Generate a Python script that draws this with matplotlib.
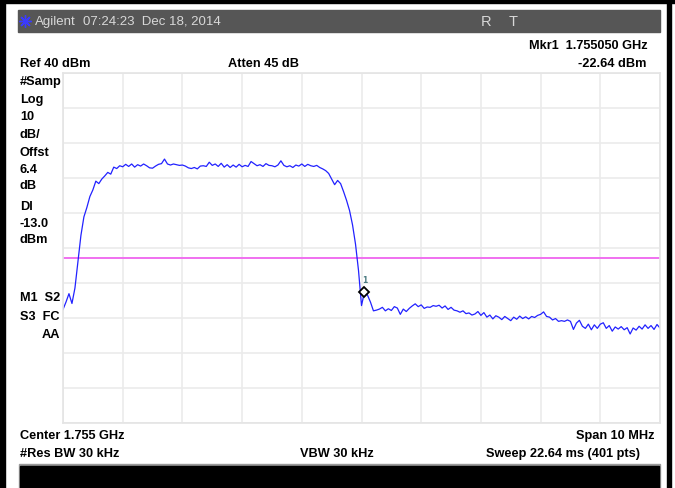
import numpy as np
import matplotlib.pyplot as plt
from matplotlib.patches import Rectangle
from matplotlib.lines import Line2D

# --- Tamaño de la captura (pixeles) ---
W, H = 675, 489

ref_level = 40        # dBm
db_div = 10           # dB/div
display_line = -13.0  # dBm
center_ghz = 1.755
span_ghz = 0.010
mkr_freq = 1.755050   # GHz
mkr_level = -22.64    # dBm

# traza en dBm, paso de 0.05 MHz (una fila = 1 MHz)
level = [
    -27.6, -25.5, -23.1, -25.9, -21.5, -14.0, -6.5, -1.2, 1.5, 4.6, 6.5, 9.0, 8.3, 9.6, 10.5, 11.5, 11.0, 13.0, 12.6, 13.4,
    13.1, 13.8, 13.2, 13.9, 13.0, 13.7, 13.3, 13.9, 13.4, 12.8, 12.7, 13.3, 13.8, 14.0, 15.3, 13.9, 13.6, 13.9, 13.7, 13.5,
    13.6, 13.3, 12.8, 12.6, 12.9, 12.5, 13.3, 13.4, 13.2, 14.4, 13.5, 13.9, 13.2, 14.1, 13.0, 13.7, 12.9, 13.6, 13.0, 13.8,
    13.1, 13.5, 13.2, 14.6, 14.0, 13.4, 13.7, 13.2, 14.0, 13.5, 13.4, 13.1, 13.6, 14.8, 13.5, 13.1, 13.4, 12.9, 13.6, 13.3,
    13.9, 13.2, 13.8, 13.4, 13.2, 13.5, 12.9, 12.5, 12.0, 11.2, 9.6, 8.0, 9.2, 8.3, 6.0, 3.5, 0.6, -3.5, -9.0, -16.5,
    -26.5, -22.64, -23.5, -25.5, -28.0, -27.8, -27.5, -27.0, -28.0, -27.4, -27.9, -26.8, -27.2, -29.0, -27.5, -28.2, -27.3, -26.6, -26.0, -26.8,
    -26.3, -27.3, -26.9, -27.0, -26.5, -26.7, -26.4, -27.2, -26.6, -27.6, -27.0, -27.8, -28.0, -28.4, -28.0, -28.8, -28.6, -29.2, -28.9, -28.2,
    -29.3, -28.5, -29.8, -29.2, -30.3, -29.4, -29.8, -30.5, -29.6, -30.2, -30.8, -29.8, -30.4, -29.5, -30.2, -29.7, -30.3, -29.6, -29.9, -29.3,
    -29.0, -28.3, -29.6, -29.8, -30.6, -30.2, -31.0, -30.8, -31.0, -30.6, -31.0, -33.3, -31.5, -30.7, -32.4, -33.0, -31.8, -33.4, -32.0, -33.0,
    -31.8, -31.4, -33.0, -32.2, -33.8, -32.6, -33.2, -32.5, -33.4, -32.8, -34.6, -32.9, -33.5, -32.4, -33.2, -32.0, -33.0, -32.2, -33.3, -31.9,
    -32.9,
]

# etiquetas del lado izquierdo (texto, y en pixeles, x en pixeles)
left_labels = [("#Samp", 82, 20), ("Log", 100, 20), ("10", 117, 20), ("dB/", 135, 20),
               ("Offst", 153, 20), ("6.4", 170, 20), ("dB", 186, 20), ("Dl", 207, 20),
               ("-13.0", 224, 20), ("dBm", 240, 20), ("M1  S2", 298, 20), ("S3  FC", 317, 20),
               ("AA", 335, 42)]

f_start = center_ghz - span_ghz / 2
f_stop = center_ghz + span_ghz / 2
freq = np.linspace(f_start, f_stop, len(level))

FONT = ['Liberation Sans', 'DejaVu Sans']


def fx(x):
    return x / W


def fy(y):
    return 1 - y / H


def label(x, y, s, ha='left', bold=True, color='black', size=9.2):
    fig.text(fx(x), fy(y), s, ha=ha, va='center', fontsize=size, color=color,
             fontweight='bold' if bold else 'normal', family=FONT)


fig = plt.figure(figsize=(W / 100, H / 100), dpi=100)
fig.patch.set_facecolor('white')

# --- Marco negro ---
fig.add_artist(Rectangle((0, 0), fx(5), 1, transform=fig.transFigure, color='black'))
fig.add_artist(Rectangle((0, fy(4)), 1, fy(0) - fy(4), transform=fig.transFigure, color='black'))
fig.add_artist(Rectangle((fx(667), 0), fx(4), 1, transform=fig.transFigure, color='black'))

# --- Barra de titulo ---
fig.add_artist(Rectangle((fx(18), fy(33)), fx(660 - 18), fy(11) - fy(33),
                         transform=fig.transFigure, color='#565656'))
fig.add_artist(Line2D([fx(25)], [fy(22)], marker=(8, 2, 0), markersize=9,
                      color='#3a3aff', mew=1.0, transform=fig.transFigure))
label(35, 22, "Agilent", bold=False, color='#d8d8d8', size=9.5)
label(83, 22, "07:24:23  Dec 18, 2014", bold=False, color='#d8d8d8', size=9.5)
label(481, 22, "R", bold=False, color='#d8d8d8', size=10.5)
label(509, 22, "T", bold=False, color='#d8d8d8', size=10.5)

# --- Textos de configuracion ---
label(648, 46, "Mkr1  1.755050 GHz", ha='right')
label(20, 64, "Ref 40 dBm")
label(228, 64, "Atten 45 dB")
label(646, 64, "-22.64 dBm", ha='right')
for s, y, x in left_labels:
    label(x, y, s)
label(20, 436, "Center 1.755 GHz")
label(655, 436, "Span 10 MHz", ha='right')
label(20, 454, "#Res BW 30 kHz")
label(300, 454, "VBW 30 kHz")
label(640, 454, "Sweep 22.64 ms (401 pts)", ha='right')

# barra negra inferior
fig.add_artist(Rectangle((fx(19), 0), fx(660 - 19), fy(465) - 0,
                         transform=fig.transFigure, color='#9a9a9a'))
fig.add_artist(Rectangle((fx(20), 0), fx(659 - 20), fy(467) - 0,
                         transform=fig.transFigure, color='black'))

# --- Reticula ---
ax = fig.add_axes([fx(63), fy(424), fx(660) - fx(63), fy(73.5) - fy(424)])
ax.set_xlim(f_start, f_stop)
ax.set_ylim(ref_level - 10 * db_div, ref_level)
ax.set_xticks(np.linspace(f_start, f_stop, 11))
ax.set_yticks(np.arange(ref_level - 10 * db_div, ref_level + 1, db_div))
ax.tick_params(length=0, labelbottom=False, labelleft=False)
ax.grid(True, color='#ebebeb', linewidth=1.2)
for sp in ax.spines.values():
    sp.set_color('#e4e4e4')
    sp.set_linewidth(1.2)

ax.axhline(display_line, color='#f070f0', linewidth=1.4)
ax.plot(freq, level, color='#2222ff', linewidth=0.9)
ax.plot([mkr_freq], [mkr_level], marker='D', markersize=5, markerfacecolor='white',
        markeredgecolor='black', markeredgewidth=1.3, linestyle='none')
ax.annotate("1", (mkr_freq, mkr_level), xytext=(0, 9), textcoords='offset points',
            ha='center', va='center', fontsize=5.5, color='#4a7a80', fontweight='bold')

plt.savefig('out.png', dpi=100)
